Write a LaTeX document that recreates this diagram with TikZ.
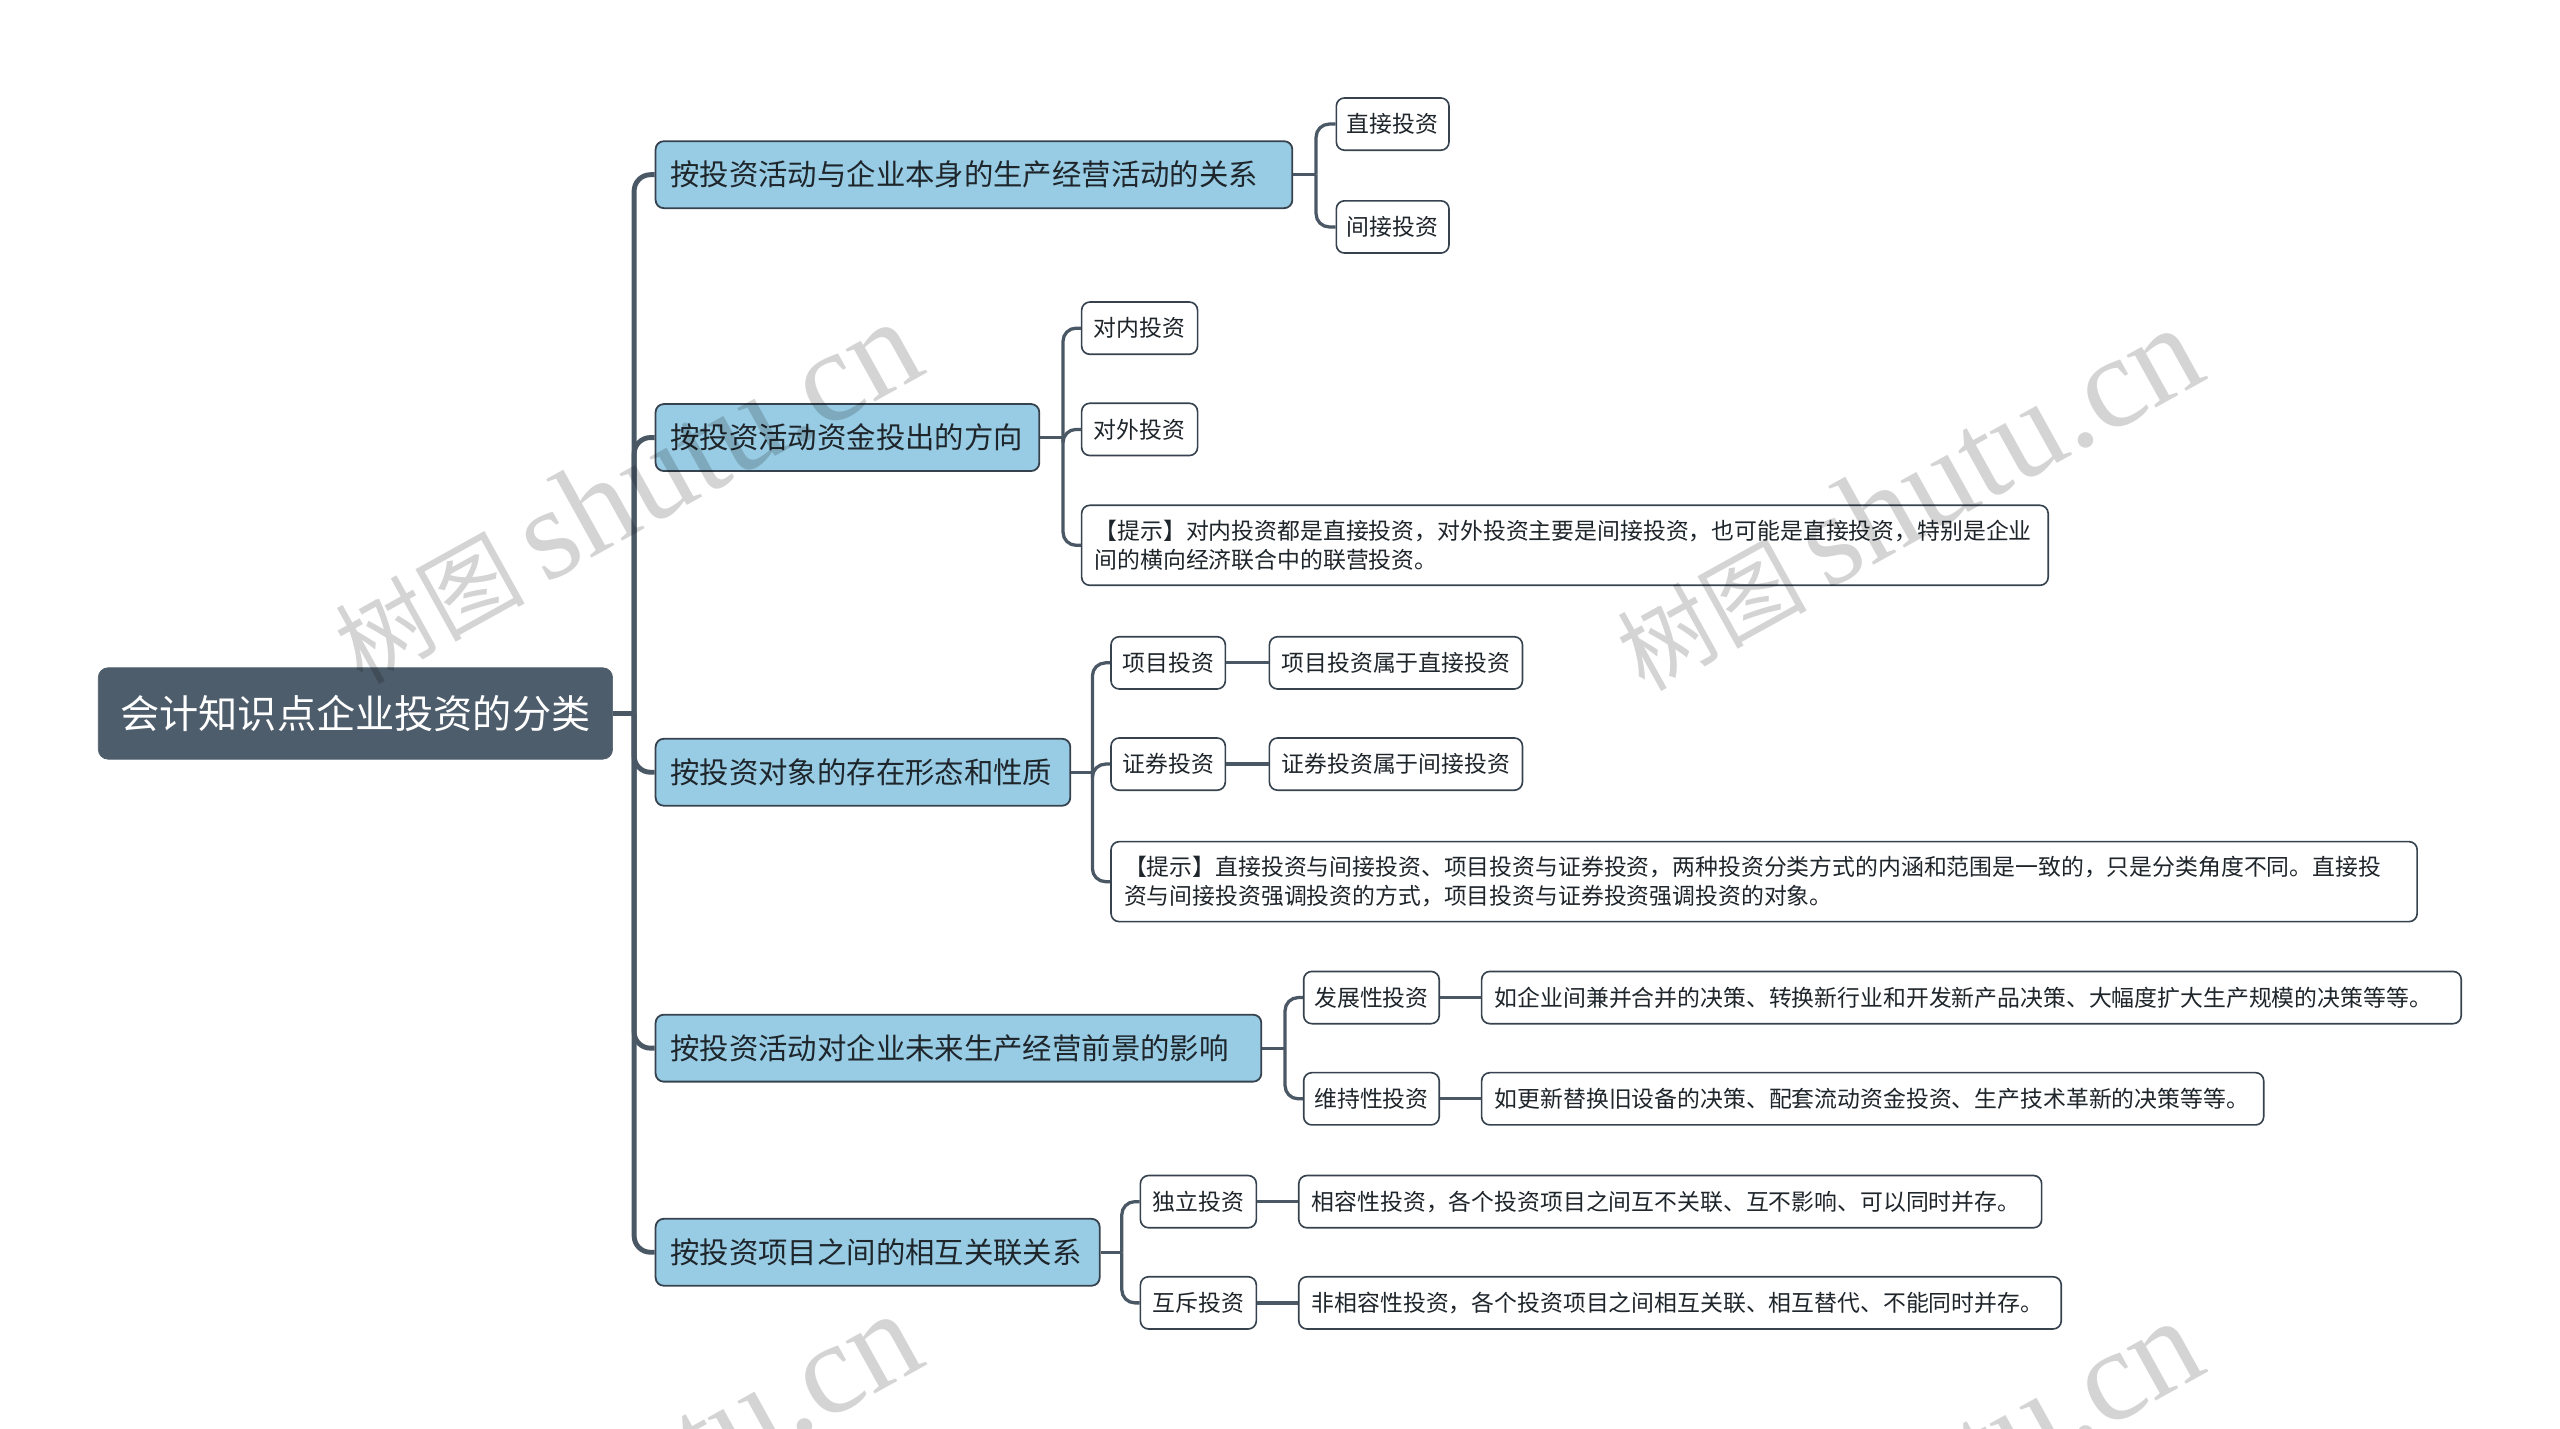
\documentclass[tikz,border=0pt]{standalone}
\usepackage{fontspec}
\setmainfont{Noto Sans CJK SC}
\newfontfamily\wmcjk{Noto Sans CJK SC}
\newfontfamily\wmlatin{Liberation Serif}
\definecolor{rootc}{HTML}{4E5D6B}
\definecolor{lonec}{HTML}{98CCE4}
\definecolor{borderc}{HTML}{36434F}
\definecolor{linec}{HTML}{4A5866}
\definecolor{textc}{HTML}{1E252B}
\newcommand{\wmtext}{{\wmcjk\fontsize{58}{60}\selectfont 树图}\hspace{12pt}{\wmlatin\fontsize{80}{84}\selectfont shutu.cn}}
\begin{document}
\begin{tikzpicture}[x=1pt,y=-1pt,
  rootbox/.style={rounded corners=6pt, fill=rootc, draw=rootc, text=white,
    font=\fontsize{24}{28}\selectfont, minimum height=56pt, minimum width=315pt, inner xsep=12pt, anchor=west},
  lone/.style={rounded corners=5pt, fill=lonec, draw=borderc, line width=1.1pt, text=textc,
    font=\fontsize{18}{22}\selectfont, minimum height=41pt, inner xsep=9pt, anchor=west, align=left},
  ltwo/.style={rounded corners=5pt, fill=white, draw=borderc, line width=1pt, text=textc,
    font=\fontsize{14}{18}\selectfont, minimum height=32pt, inner xsep=6pt, anchor=west},
  leafbox/.style={ltwo, inner xsep=8pt, align=left},
  notebox/.style={ltwo, align=left, inner xsep=8pt, inner ysep=6pt, minimum height=49pt},
  trunk/.style={draw=linec, line width=3pt, rounded corners=10pt},
  twig/.style={draw=linec, line width=2pt, rounded corners=8pt},
  wm/.style={text=black, text opacity=0.17, rotate=29, anchor=base west, inner sep=0pt}
]
\useasboundingbox[fill=white] (0,0) rectangle (1568,875);

% root
\node[rootbox] (root) at (60,437) {会计知识点企业投资的分类};

% level one
\node[lone, text width=372pt] (b1) at (401,107) {按投资活动与企业本身的生产经营活动的关系};
\node[lone, text width=217pt] (b2) at (401,268) {按投资活动资金投出的方向};
\node[lone, text width=236pt] (b3) at (401,473) {按投资对象的存在形态和性质};
\node[lone, text width=353pt] (b4) at (401,642) {按投资活动对企业未来生产经营前景的影响};
\node[lone, text width=254pt] (b5) at (401,767) {按投资项目之间的相互关联关系};

% level two
\node[ltwo, minimum width=69pt] (c11) at (818,76) {直接投资};
\node[ltwo, minimum width=69pt] (c12) at (818,139) {间接投资};

\node[ltwo, minimum width=71pt] (c21) at (662,201) {对内投资};
\node[ltwo, minimum width=71pt] (c22) at (662,263) {对外投资};
\node[notebox, text width=576pt] (c23) at (662,334) {【提示】对内投资都是直接投资，对外投资主要是间接投资，也可能是直接投资，特别是企业\\间的横向经济联合中的联营投资。};

\node[ltwo, minimum width=70pt] (c31) at (680,406) {项目投资};
\node[ltwo, minimum width=70pt] (c32) at (680,468) {证券投资};
\node[notebox, text width=784pt] (c33) at (680,540) {【提示】直接投资与间接投资、项目投资与证券投资，两种投资分类方式的内涵和范围是一致的，只是分类角度不同。直接投\\资与间接投资强调投资的方式，项目投资与证券投资强调投资的对象。};
\node[ltwo, minimum width=155pt] (d31) at (777,406) {项目投资属于直接投资};
\node[ltwo, minimum width=155pt] (d32) at (777,468) {证券投资属于间接投资};

\node[ltwo, minimum width=83pt] (c41) at (798,611) {发展性投资};
\node[ltwo, minimum width=83pt] (c42) at (798,673) {维持性投资};
\node[leafbox, text width=584pt] (d41) at (907,611) {如企业间兼并合并的决策、转换新行业和开发新产品决策、大幅度扩大生产规模的决策等等。};
\node[leafbox, text width=463pt] (d42) at (907,673) {如更新替换旧设备的决策、配套流动资金投资、生产技术革新的决策等等。};

\node[ltwo, minimum width=71pt] (c51) at (698,736) {独立投资};
\node[ltwo, minimum width=71pt] (c52) at (698,798) {互斥投资};
\node[leafbox, text width=439pt] (d51) at (795,736) {相容性投资，各个投资项目之间互不关联、互不影响、可以同时并存。};
\node[leafbox, text width=451pt] (d52) at (795,798) {非相容性投资，各个投资项目之间相互关联、相互替代、不能同时并存。};

% trunk connectors
\coordinate (j0) at ([xshift=13pt]root.east);
\draw[trunk] (root.east) -- (j0);
\foreach \b in {b1,b2,b3,b4,b5} { \draw[trunk] (j0) |- (\b.west); }

% branch connectors
\coordinate (j1) at ([xshift=14pt]b1.east);
\draw[twig] (b1.east) -- (j1);
\foreach \c in {c11,c12} { \draw[twig] (j1) |- (\c.west); }

\coordinate (j2) at ([xshift=14pt]b2.east);
\draw[twig] (b2.east) -- (j2);
\foreach \c in {c21,c22,c23} { \draw[twig] (j2) |- (\c.west); }

\coordinate (j3) at ([xshift=13pt]b3.east);
\draw[twig] (b3.east) -- (j3);
\foreach \c in {c31,c32,c33} { \draw[twig] (j3) |- (\c.west); }
\draw[twig] (c31.east) -- (d31.west);
\draw[twig] (c32.east) -- (d32.west);

\coordinate (j4) at ([xshift=14pt]b4.east);
\draw[twig] (b4.east) -- (j4);
\foreach \c in {c41,c42} { \draw[twig] (j4) |- (\c.west); }
\draw[twig] (c41.east) -- (d41.west);
\draw[twig] (c42.east) -- (d42.west);

\coordinate (j5) at ([xshift=13pt]b5.east);
\draw[twig] (b5.east) -- (j5);
\foreach \c in {c51,c52} { \draw[twig] (j5) |- (\c.west); }
\draw[twig] (c51.east) -- (d51.west);
\draw[twig] (c52.east) -- (d52.west);

% watermarks
\begin{scope}
\clip (0,0) rectangle (1568,875);
\node[wm] (w1) at (222,420) {\wmtext};
\node[wm] (w2) at (1007,424) {\wmtext};
\node[wm] (w3) at (222,1028) {\wmtext};
\node[wm] (w4) at (1007,1032) {\wmtext};
\end{scope}
\end{tikzpicture}
\end{document}
